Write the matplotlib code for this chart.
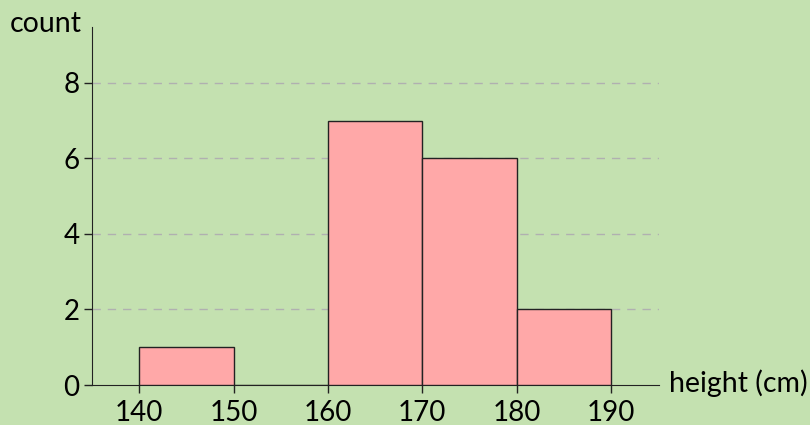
import matplotlib.pyplot as plt

# Height histogram data
bin_edges = [140, 150, 160, 170, 180, 190]
counts = [1, 0, 7, 6, 2]
y_ticks = [0, 2, 4, 6, 8]

bg = "#c4e1b0"
plt.rcParams["font.family"] = ["Lato", "DejaVu Sans"]

fig = plt.figure(figsize=(8.1, 4.25), dpi=100, facecolor=bg)
ax = fig.add_axes([92 / 810, 1 - 385 / 425, (659 - 92) / 810, (385 - 27) / 425])
ax.set_facecolor(bg)

lefts = bin_edges[:-1]
widths = [b - a for a, b in zip(bin_edges[:-1], bin_edges[1:])]
ax.bar(lefts, counts, width=widths, align="edge", color="#ffa8a8",
       edgecolor="#222222", linewidth=1.0, zorder=3)

ax.set_xlim(135, 195.1)
ax.set_ylim(0, 9.48)
ax.set_xticks(bin_edges)
ax.set_yticks(y_ticks)

# dashed guide lines at each count tick
for y in y_ticks[1:]:
    ax.axhline(y, color="#b0b0b0", linestyle=(0, (6, 5)), linewidth=1, zorder=1)

for s in ["top", "right"]:
    ax.spines[s].set_visible(False)
ax.spines["left"].set_color("#222222")
ax.spines["bottom"].set_color("#222222")
ax.tick_params(axis="both", length=6, width=1, color="#222222", labelsize=20)
ax.tick_params(axis="x", pad=5)
ax.tick_params(axis="y", pad=3)

fig.text(10 / 810, 1 - 24 / 425, "count", fontsize=20.5, ha="left", va="center")
fig.text(669 / 810, 1 - 383 / 425, "height (cm)", fontsize=20.5, ha="left", va="center")

fig.savefig("out.png", dpi=100, facecolor=bg)
